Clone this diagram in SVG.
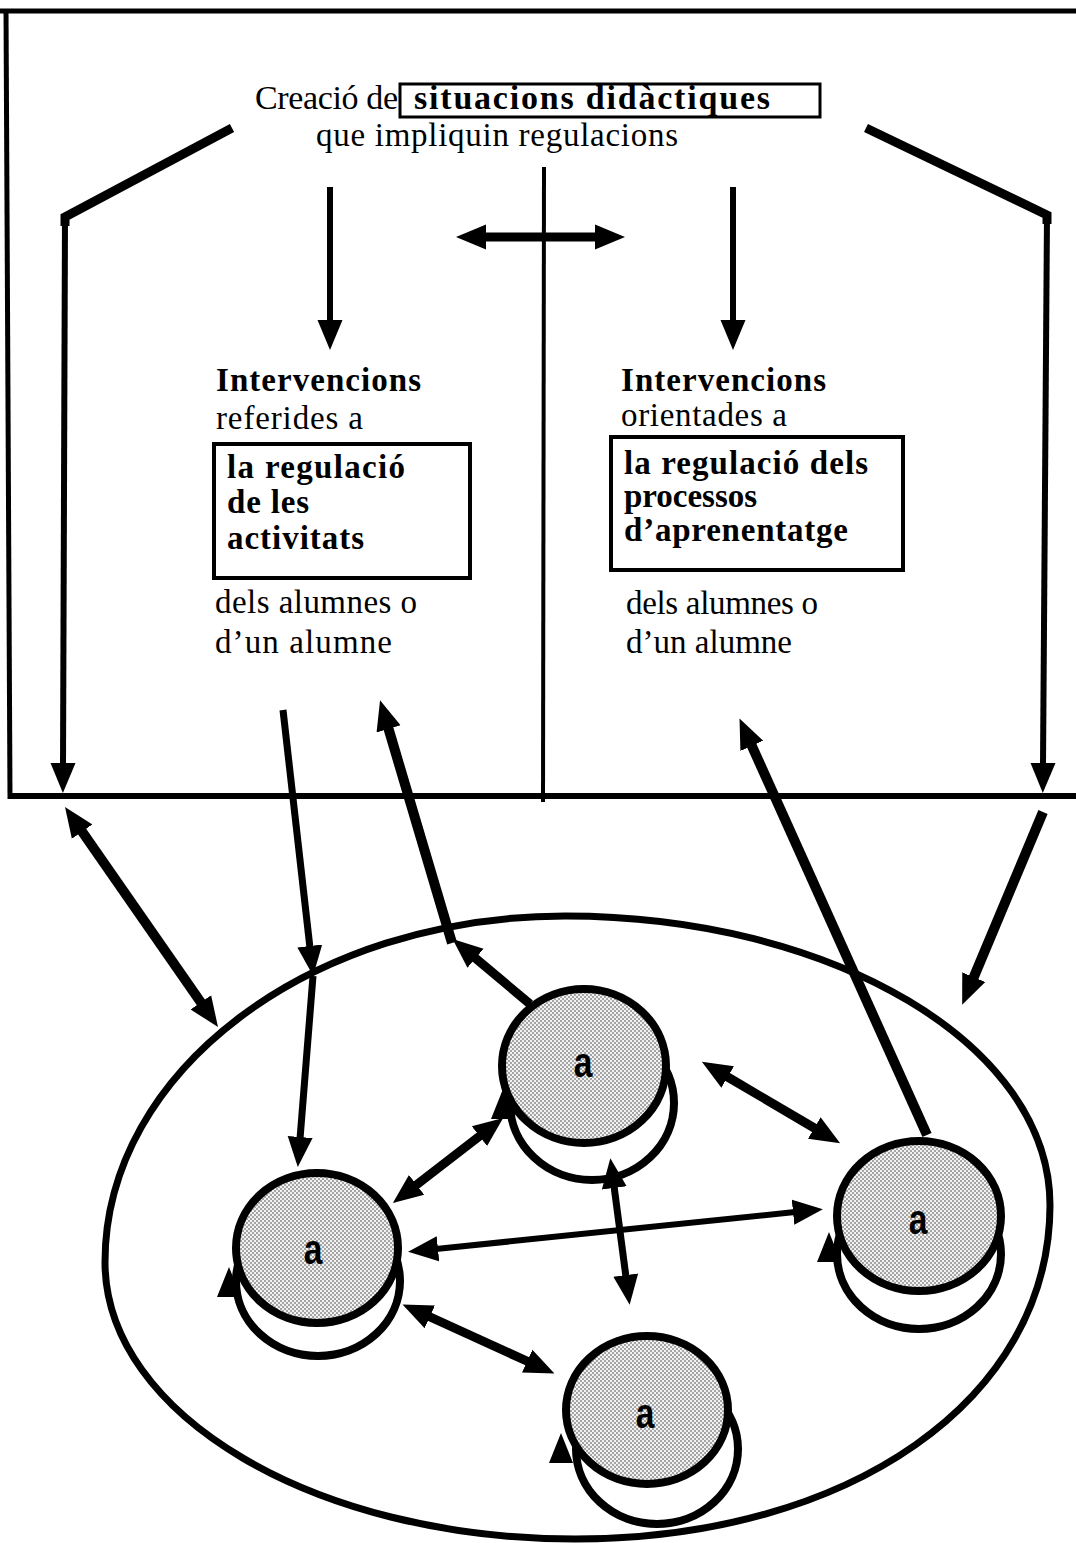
<svg xmlns="http://www.w3.org/2000/svg" xmlns:xlink="http://www.w3.org/1999/xlink" width="1076" height="1543" viewBox="0 0 1076 1543">
  <defs>
    <style>
      .ln { stroke: #000; fill: none; stroke-linecap: butt; stroke-linejoin: miter; }
      .arw { stroke: #000; fill: none; marker-end: url(#ah); }
      .dbl { stroke: #000; fill: none; marker-start: url(#ah); marker-end: url(#ah); }
      .serif { font-family: "Liberation Serif", "Times New Roman", serif; font-size: 33px; fill: #000; }
      .big { font-size: 34px; }
      .b { font-weight: bold; }
      .box { fill: none; stroke: #000; }
      .disc { fill: url(#dots); stroke: #000; stroke-width: 8; }
      .loop { fill: none; stroke: #000; stroke-width: 8; }
      .lbl { font-family: "Liberation Sans", Arial, sans-serif; font-weight: bold; font-size: 42px; fill: #000; text-anchor: middle; }
    </style>
    <!-- filled triangular arrowhead; tip sits 28px past the line end -->
    <marker id="ah" markerUnits="userSpaceOnUse" markerWidth="32" markerHeight="28" viewBox="0 -14 32 28" refX="2" refY="0" orient="auto-start-reverse">
      <path d="M0,-12.5 L30,0 L0,12.5 Z" fill="#000"/>
    </marker>
    <!-- upward arrowhead closing each self-loop -->
    <path id="loophead" d="M0,0 L-12,30 L12,30 Z" fill="#000"/>
    <!-- halftone shading of the pupil discs -->
    <pattern id="dots" patternUnits="userSpaceOnUse" width="4" height="4">
      <rect width="4" height="4" fill="#f2f2f2"/>
      <circle cx="1" cy="1" r="0.8" fill="#444"/>
      <circle cx="3" cy="3" r="0.8" fill="#444"/>
    </pattern>
  </defs>

  <rect width="1076" height="1543" fill="#fff"/>

  <!-- upper frame with its central divider -->
  <g id="frame">
    <line class="ln" x1="0" y1="11" x2="1076" y2="11" stroke-width="5"/>
    <line class="ln" x1="6" y1="9" x2="10" y2="799" stroke-width="5"/>
    <line class="ln" x1="8" y1="796" x2="1076" y2="796" stroke-width="6"/>
    <line class="ln" x1="544" y1="167" x2="543" y2="802" stroke-width="4"/>
  </g>

  <!-- heading -->
  <g id="heading">
    <text class="serif big" x="255" y="109" textLength="143">Creació de</text>
    <rect class="box" x="400" y="84" width="420" height="33" stroke-width="3"/>
    <text class="serif big b" x="414" y="109" textLength="356">situacions didàctiques</text>
    <text class="serif" x="316" y="146" textLength="362">que impliquin regulacions</text>
  </g>

  <!-- left column: regulation of the activities -->
  <g id="activities">
    <text class="serif b" x="216" y="391" textLength="205">Intervencions</text>
    <text class="serif" x="216" y="429" textLength="147">referides a</text>
    <rect class="box" x="214" y="444" width="256" height="134" stroke-width="4"/>
    <text class="serif b" x="227" y="478" textLength="178">la regulació</text>
    <text class="serif b" x="227" y="513" textLength="82">de les</text>
    <text class="serif b" x="227" y="549" textLength="137">activitats</text>
    <text class="serif" x="215" y="613" textLength="202">dels alumnes o</text>
    <text class="serif" x="215" y="653" textLength="177">d’un alumne</text>
  </g>

  <!-- right column: regulation of the learning processes -->
  <g id="processes">
    <text class="serif b" x="621" y="391" textLength="205">Intervencions</text>
    <text class="serif" x="621" y="426" textLength="166">orientades a</text>
    <rect class="box" x="611" y="437" width="292" height="133" stroke-width="4"/>
    <text class="serif b" x="624" y="474" textLength="244">la regulació dels</text>
    <text class="serif b" x="624" y="507" textLength="133">processos</text>
    <text class="serif b" x="624" y="541" textLength="224">d’aprenentatge</text>
    <text class="serif" x="626" y="614" textLength="192">dels alumnes o</text>
    <text class="serif" x="626" y="653" textLength="166">d’un alumne</text>
  </g>

  <!-- the class group -->
  <g id="class-group">
    <path class="ln" stroke-width="7" d="M105,1262 C105,1071 311,916 565,916 C833,916 1050,1045 1050,1205 C1050,1399 850,1539 575,1539 C315,1539 105,1415 105,1262 Z"/>
  </g>

  <!-- pupils -->
  <g id="pupil-top">
    <ellipse class="loop" cx="592" cy="1103" rx="82" ry="77"/>
    <ellipse class="disc" cx="584" cy="1066" rx="82" ry="77"/>
    <use xlink:href="#loophead" x="503" y="1089"/>
    <text class="lbl" transform="translate(583,1077) scale(0.8,1)">a</text>
  </g>
  <g id="pupil-left">
    <ellipse class="loop" cx="318" cy="1281" rx="82" ry="75"/>
    <ellipse class="disc" cx="317" cy="1248" rx="81" ry="75"/>
    <use xlink:href="#loophead" x="229" y="1267"/>
    <text class="lbl" transform="translate(313,1264) scale(0.8,1)">a</text>
  </g>
  <g id="pupil-right">
    <ellipse class="loop" cx="919" cy="1254" rx="82" ry="75"/>
    <ellipse class="disc" cx="919" cy="1216" rx="82" ry="75"/>
    <use xlink:href="#loophead" x="829" y="1232"/>
    <text class="lbl" transform="translate(918,1234) scale(0.8,1)">a</text>
  </g>
  <g id="pupil-bottom">
    <ellipse class="loop" cx="657" cy="1449" rx="81" ry="75"/>
    <ellipse class="disc" cx="647" cy="1410" rx="81" ry="74"/>
    <use xlink:href="#loophead" x="561" y="1433"/>
    <text class="lbl" transform="translate(645,1428) scale(0.8,1)">a</text>
  </g>

  <!-- connectors -->
  <g id="connectors">
    <!-- from the heading -->
    <line class="arw" x1="330" y1="187" x2="330" y2="322" stroke-width="6"/>
    <line class="arw" x1="733" y1="187" x2="733" y2="322" stroke-width="6"/>
    <line class="dbl" x1="484" y1="237" x2="597" y2="237" stroke-width="9"/>
    <path class="ln" stroke-width="9" d="M232,128 L65,217 L65,226"/>
    <line class="arw" x1="65" y1="217" x2="63" y2="765" stroke-width="6"/>
    <path class="ln" stroke-width="9" d="M866,128 L1047,215 L1047,224"/>
    <line class="arw" x1="1047" y1="215" x2="1043" y2="765" stroke-width="6"/>
    <!-- between the frame and the class group -->
    <line class="dbl" x1="81" y1="830" x2="202" y2="1004" stroke-width="10"/>
    <line class="arw" x1="1043" y1="812" x2="973" y2="979" stroke-width="10"/>
    <line class="arw" x1="283" y1="710" x2="310" y2="948" stroke-width="7"/>
    <line class="arw" x1="313" y1="976" x2="300" y2="1139" stroke-width="7"/>
    <line class="arw" x1="530" y1="1004" x2="474" y2="957" stroke-width="9"/>
    <line class="arw" x1="452" y1="943" x2="388" y2="727" stroke-width="10"/>
    <line class="arw" x1="927" y1="1135" x2="751" y2="744" stroke-width="10"/>
    <!-- between pupils -->
    <line class="dbl" x1="726" y1="1076" x2="816" y2="1129" stroke-width="9"/>
    <line class="dbl" x1="481" y1="1135" x2="415" y2="1186" stroke-width="9"/>
    <line class="dbl" x1="436" y1="1249" x2="795" y2="1212" stroke-width="6"/>
    <line class="dbl" x1="614" y1="1186" x2="626" y2="1277" stroke-width="7"/>
    <line class="dbl" x1="428" y1="1316" x2="529" y2="1362" stroke-width="9"/>
  </g>
</svg>
